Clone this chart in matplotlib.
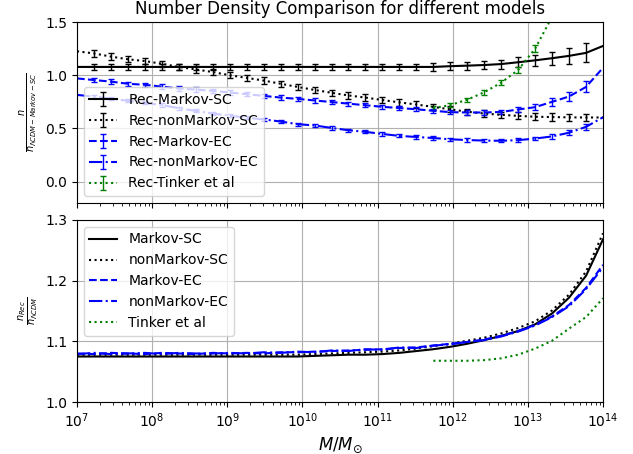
import numpy as np
import matplotlib
matplotlib.use("Agg")
import matplotlib.pyplot as plt

# log10(M/Msun) grid
logM = np.linspace(7, 14, 32)

# top panel: n / n_LCDM-Markov-SC
rec_markov_sc = [1.078] * 22 + [1.085, 1.090, 1.096, 1.105, 1.122, 1.140,
                                1.160, 1.182, 1.210, 1.275]
rec_markov_sc_err = [0.03] * 21 + [0.035, 0.035, 0.038, 0.040, 0.042, 0.046,
                                   0.052, 0.060, 0.072, 0.090, 0.10]
rec_nonmarkov_sc = [1.225, 1.205, 1.175, 1.150, 1.133, 1.108, 1.078, 1.055,
                    1.030, 1.000, 0.975, 0.950, 0.920, 0.890, 0.862, 0.835,
                    0.810, 0.790, 0.767, 0.745, 0.725, 0.702, 0.680, 0.657,
                    0.640, 0.628, 0.618, 0.610, 0.607, 0.604, 0.603, 0.603]
rec_nonmarkov_sc_err = [0.03] * 26 + [0.032, 0.033, 0.034, 0.035, 0.036, 0.036]
rec_markov_ec = [0.970, 0.955, 0.940, 0.920, 0.910, 0.893, 0.875, 0.865,
                 0.853, 0.838, 0.822, 0.806, 0.790, 0.778, 0.763, 0.748,
                 0.733, 0.718, 0.703, 0.692, 0.680, 0.666, 0.653, 0.650,
                 0.650, 0.655, 0.678, 0.700, 0.750, 0.800, 0.890, 1.070]
rec_markov_ec_err = [0.02] * 25 + [0.022, 0.025, 0.027, 0.035, 0.045, 0.052, 0.055]
rec_nonmarkov_ec = [0.815, 0.800, 0.780, 0.760, 0.740, 0.720, 0.690, 0.665,
                    0.640, 0.620, 0.600, 0.585, 0.565, 0.540, 0.528, 0.505,
                    0.483, 0.468, 0.448, 0.430, 0.420, 0.410, 0.398, 0.391,
                    0.386, 0.384, 0.390, 0.405, 0.425, 0.460, 0.515, 0.605]
rec_nonmarkov_ec_err = [0.015] * 26 + [0.017, 0.018, 0.02, 0.022, 0.025, 0.028]
rec_tinker = [np.nan] * 21 + [0.690, 0.720, 0.770, 0.840, 0.930, 1.050,
                              1.250, 1.550, 2.000, 2.700, 3.800]
rec_tinker_err = [0.0] * 21 + [0.02, 0.02, 0.02, 0.022, 0.025, 0.027,
                               0.03, 0.035, 0.04, 0.05, 0.06]

# bottom panel: n_Rec / n_LCDM
markov_sc = [1.075] * 14 + [1.076, 1.077, 1.078, 1.078, 1.079, 1.081, 1.084,
                            1.087, 1.091, 1.096, 1.102, 1.109, 1.117, 1.128,
                            1.146, 1.172, 1.208, 1.268]
nonmarkov_sc = [1.078] * 14 + [1.079, 1.080, 1.081, 1.082, 1.083, 1.085,
                               1.088, 1.092, 1.096, 1.101, 1.106, 1.113, 1.122,
                               1.133, 1.151, 1.177, 1.215, 1.278]
markov_ec = [1.080, 1.079, 1.081, 1.080, 1.079, 1.081, 1.080, 1.079, 1.081,
             1.080, 1.081, 1.080, 1.082, 1.082, 1.083, 1.084, 1.085, 1.086,
             1.087, 1.089, 1.090, 1.093, 1.096, 1.099, 1.103, 1.109, 1.117,
             1.127, 1.141, 1.160, 1.188, 1.226]
nonmarkov_ec = [1.079, 1.081, 1.079, 1.080, 1.081, 1.079, 1.081, 1.080, 1.080,
                1.081, 1.080, 1.082, 1.081, 1.083, 1.082, 1.085, 1.084, 1.087,
                1.086, 1.090, 1.089, 1.093, 1.095, 1.099, 1.102, 1.108, 1.116,
                1.126, 1.140, 1.158, 1.186, 1.222]
tinker = [np.nan] * 21 + [1.068, 1.068, 1.068, 1.069, 1.072, 1.078, 1.088,
                          1.101, 1.121, 1.140, 1.171]

M = 10 ** logM

fig = plt.figure(figsize=(6.33, 4.54), dpi=100)
ax1 = fig.add_axes([0.1216, 0.553, 0.831, 0.3985])
ax2 = fig.add_axes([0.1216, 0.1145, 0.831, 0.401], sharex=ax1)

every = slice(1, -1)
kw = dict(capsize=2.5, elinewidth=1, errorevery=every)
ax1.errorbar(M, rec_markov_sc, yerr=rec_markov_sc_err, color="k", ls="-",
             label="Rec-Markov-SC", **kw)
ax1.errorbar(M, rec_nonmarkov_sc, yerr=rec_nonmarkov_sc_err, color="k", ls=":",
             label="Rec-nonMarkov-SC", **kw)
ax1.errorbar(M, rec_markov_ec, yerr=rec_markov_ec_err, color="b", ls="--",
             label="Rec-Markov-EC", **kw)
ax1.errorbar(M, rec_nonmarkov_ec, yerr=rec_nonmarkov_ec_err, color="b", ls="-.",
             label="Rec-nonMarkov-EC", **kw)
ax1.errorbar(M, rec_tinker, yerr=rec_tinker_err, color="g", ls=":",
             label="Rec-Tinker et al", **kw)
ax1.set_xscale("log")
ax1.set_xlim(1e7, 1e14)
ax1.set_ylim(-0.2, 1.5)
ax1.set_yticks([0.0, 0.5, 1.0, 1.5])
ax1.set_ylabel(r"$\frac{n}{n_{\Lambda CDM-Markov-SC}}$")
ax1.set_title("Number Density Comparison for different models")
ax1.grid(True)
ax1.legend(loc="lower left")
ax1.tick_params(labelbottom=False)

ax2.plot(M, markov_sc, "k-", label="Markov-SC")
ax2.plot(M, nonmarkov_sc, "k:", label="nonMarkov-SC")
ax2.plot(M, markov_ec, "b--", label="Markov-EC")
ax2.plot(M, nonmarkov_ec, "b-.", label="nonMarkov-EC")
ax2.plot(M, tinker, "g:", label="Tinker et al")
ax2.set_ylim(1.0, 1.3)
ax2.set_yticks([1.0, 1.1, 1.2, 1.3])
ax2.set_ylabel(r"$\frac{n_{Rec}}{n_{\Lambda CDM}}$")
ax2.set_xlabel(r"$M/M_{\odot}$", fontsize=12)
ax2.grid(True)
ax2.legend(loc="upper left")

fig.savefig("out.png", dpi=100)
